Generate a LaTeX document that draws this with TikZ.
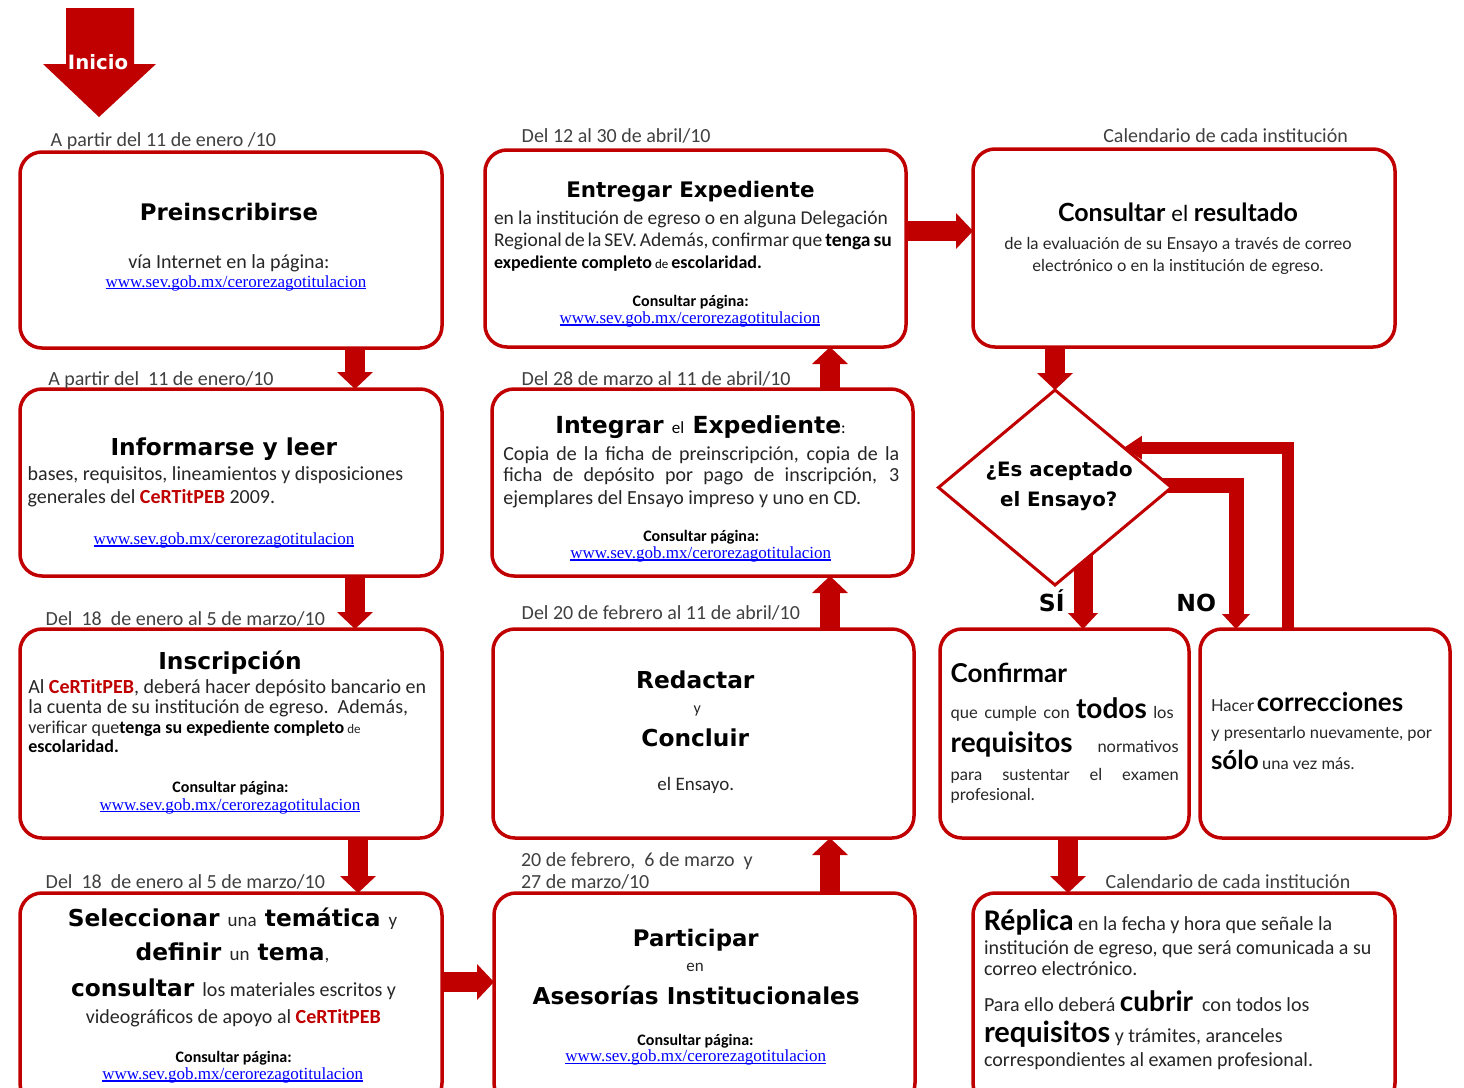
\documentclass[tikz,border=0pt]{standalone}
\usepackage{fontspec}
\setmainfont{Carlito}
\newfontfamily\latof{Lato}
\newfontfamily\dvsf{DejaVu Sans}
\newfontfamily\serf{Liberation Serif}
\usetikzlibrary{arrows.meta,shapes.geometric,calc}
\pgfdeclarelayer{bg}
\pgfsetlayers{bg,main}
\definecolor{rd}{HTML}{C00000}
\definecolor{dg}{HTML}{404040}
\definecolor{bt}{HTML}{262626}
\definecolor{ub}{HTML}{0000FF}
\newcommand\fsz[1]{\fontsize{#1pt}{#1pt}\selectfont}
\newcommand\ttb[1]{\dvsf\bfseries\fontsize{#1pt}{#1pt}\selectfont}
\newcommand\lr[1]{\latof\mdseries\fontsize{#1pt}{#1pt}\selectfont}
\newcommand\lb[1]{\latof\bfseries\fontsize{#1pt}{#1pt}\selectfont}
\newcommand\cer{{\bfseries\color{rd}CeRTitPEB}}
\newcommand\myurl{{\setbox0\hbox{\serf\fsz{17}\color{ub}www.sev.gob.mx/cerorezagotitulacion}\rlap{\color{ub}\rule[-2.2pt]{\wd0}{1.1pt}}\box0}}
\begin{document}
\begin{tikzpicture}[x=1pt,y=-1pt,
  box/.style={draw=rd, line width=3.5pt, rounded corners=22pt, fill=white, inner sep=0pt, outer sep=0pt},
  tx/.style={inner sep=0pt, outer sep=0pt, anchor=base, text=bt, font=\fsz{20}},
  txl/.style={tx, anchor=base west},
  ttl/.style={tx, text=black},
  dt/.style={txl, text=dg},
  cp/.style={tx, text=black, font=\bfseries\fsz{16}},
  barr/.style={draw=rd, line width=20pt, -{Triangle[width=36pt,length=17pt,line width=0pt]}},
  barrs/.style={draw=rd, line width=15pt, line join=miter, -{Triangle[width=28pt,length=15pt,line width=0pt]}},
  barrl/.style={draw=rd, line width=12pt, line join=miter, -{Triangle[width=24pt,length=18pt,line width=0pt]}}]
\useasboundingbox (0,0) rectangle (1464,1087);

% Inicio arrow
\fill[rd] (66,8) -- (134,8) -- (134,64) -- (156,64) -- (99,117) -- (43,64) -- (66,64) -- cycle;
\node[tx, text=white, font=\ttb{19.7}] (inicio) at (98,69) {Inicio};

% boxes
\node[box, minimum width=422pt, minimum height=196pt] (pre) at (231,250) {};
\node[box, minimum width=422pt, minimum height=187pt] (inf) at (231,482.5) {};
\node[box, minimum width=422pt, minimum height=209pt] (ins) at (231,733.5) {};
\node[box, minimum width=422pt, minimum height=212pt] (sel) at (231,999) {};
\node[box, minimum width=421pt, minimum height=197pt] (ent) at (695.5,248.5) {};
\node[box, minimum width=421pt, minimum height=187pt] (int) at (702.5,482.5) {};
\node[box, minimum width=421pt, minimum height=209pt] (red) at (703.5,733.5) {};
\node[box, minimum width=421pt, minimum height=212pt] (par) at (704.5,999) {};
\node[box, minimum width=422pt, minimum height=198pt] (cons) at (1184,248) {};
\node[box, minimum width=249pt, minimum height=209pt] (conf) at (1064.5,733.5) {};
\node[box, minimum width=250pt, minimum height=209pt] (hac) at (1325,733.5) {};
\node[box, minimum width=422pt, minimum height=212pt] (rep) at (1184,999) {};
\node[draw=rd, line width=3pt, fill=white, diamond, minimum width=233pt, minimum height=195pt, inner sep=0pt, outer sep=0pt] (dia) at (1055,487.5) {};

% connectors
\draw[barr] ([xshift=124pt]pre.south) -- ([xshift=124pt]inf.north);
\draw[barr] ([xshift=124pt]inf.south) -- ([xshift=124pt]ins.north);
\draw[barr] ([xshift=127pt]ins.south) -- ([xshift=127pt]sel.north);
\draw[barr] ([yshift=17pt]sel.east) -- ([yshift=17pt]par.west);
\draw[barr] ([xshift=125.5pt]par.north) -- ([xshift=126.5pt]red.south);
\draw[barr] ([xshift=126.5pt]red.north) -- ([xshift=127.5pt]int.south);
\draw[barr] ([xshift=127.5pt]int.north) -- ([xshift=134.5pt]ent.south);
\draw[barr] ([yshift=17.5pt]ent.east) -- ([yshift=17pt]cons.west);
\draw[barr] (cons.south -| dia.north) -- (dia.north);
\draw[barr] ([xshift=3.5pt]conf.south) -- ([xshift=-116pt]rep.north);
\begin{pgfonlayer}{bg}
\draw[barr, line width=19pt, -{Triangle[width=30pt,length=16pt,line width=0pt]}] ([xshift=28pt]dia.center) -- ([xshift=18.5pt]conf.north);
\draw[barrs] ([yshift=2pt]dia.center) -| ([xshift=-89pt]hac.north);
\end{pgfonlayer}
\draw[barrl] ([xshift=-37pt]hac.north) |- (dia.30);

% date labels
\node[dt] (d1) at (50.7,146) {A partir del 11 de enero /10};
\node[dt] (d2) at (48.3,385) {A partir del~~11 de enero/10};
\node[dt] (d3) at (45.7,625) {Del~~18~~de enero al 5 de marzo/10};
\node[dt] (d4) at (45.7,888.3) {Del~~18~~de enero al 5 de marzo/10};
\node[dt] (d5) at (521.7,142.7) {Del 12 al 30 de abril/10};
\node[dt] (d6) at (521.7,385) {Del 28 de marzo al 11 de abril/10};
\node[dt] (d7) at (521.7,619.5) {Del 20 de febrero al 11 de abril/10};
\node[dt] (d8) at (521,866.7) {20 de febrero,~~6 de marzo~~y};
\node[dt] (d9) at (521,888.3) {27 de marzo/10};
\node[dt] (d10) at (1103.3,142.7) {Calendario de cada institución};
\node[dt] (d11) at (1105.7,888.3) {Calendario de cada institución};

% Preinscribirse
\node[ttl, font=\ttb{22.8}] (preT) at (229,220.7) {Preinscribirse};
\node[tx] (preB) at (229,268.7) {vía Internet en la página:};
\node[tx] (preU) at (236,287) {\myurl};

% Entregar
\node[ttl, font=\ttb{21.4}] (entT) at (690.5,197.3) {Entregar Expediente};
\node[txl, font=\fsz{19.5}] (ent1) at (494,224) {\makebox[394pt][s]{en la institución de egreso o en alguna Delegación}};
\node[txl, font=\fsz{19.5}] (ent2) at (494,246) {\makebox[394pt][s]{Regional de la SEV. Además, confirmar que {\color{black}\bfseries tenga su}}};
\node[txl, text=black, font=\bfseries\fsz{18}] (ent3) at (494,268.3) {expediente completo\,{\mdseries\fsz{13}de}\,escolaridad.};
\node[cp] (entC) at (690.7,306) {Consultar página:};
\node[tx] (entU) at (690,323.3) {\myurl};

% Consultar resultado
\node[ttl] (consT) at (1178,221.7) {\lb{25}Consultar \lr{22}el \lb{25}resultado};
\node[tx, font=\lr{16.5}] (cons1) at (1178,249) {de la evaluación de su Ensayo a través de correo};
\node[tx, font=\lr{16.5}] (cons2) at (1178,271.7) {electrónico o en la institución de egreso.};

% Informarse
\node[ttl, font=\ttb{23.3}] (infT) at (223.8,455) {Informarse y leer};
\node[txl] (inf1) at (27.7,480.7) {bases, requisitos, lineamientos y disposiciones};
\node[txl] (inf2) at (27.7,503.3) {generales del \cer{} 2009.};
\node[tx] (infU) at (224,544.3) {\myurl};

% Integrar
\node[ttl] (intT) at (700.5,433.3) {\ttb{23.5}Integrar {\fsz{17}\mdseries\rmfamily el} Expediente{\fsz{17}\mdseries\rmfamily :}};
\node[txl] (int1) at (503.3,460) {\makebox[396pt][s]{Copia de la ficha de preinscripción, copia de la}};
\node[txl] (int2) at (503.3,481.7) {\makebox[396pt][s]{ficha de depósito por pago de inscripción, 3}};
\node[txl] (int3) at (503.3,504) {ejemplares del Ensayo impreso y uno en CD.};
\node[cp] (intC) at (701.3,541.7) {Consultar página:};
\node[tx] (intU) at (700.7,558.3) {\myurl};

% Inscripcion
\node[ttl, font=\ttb{23.3}] (insT) at (230,669.3) {Inscripción};
\node[txl] (ins1) at (28.3,693.3) {Al \cer, deberá hacer depósito bancario en};
\node[txl] (ins2) at (28.3,713.3) {la cuenta de su institución de egreso.~~Además,};
\node[txl, font=\fsz{18}] (ins3) at (28.3,733.3) {verificar que{\color{black}\bfseries tenga su expediente completo}{\fsz{13} de}};
\node[txl, text=black, font=\bfseries\fsz{18}] (ins4) at (28.3,752.7) {escolaridad.};
\node[cp] (insC) at (230.5,792.7) {Consultar página:};
\node[tx] (insU) at (230,810) {\myurl};

% Seleccionar
\node[ttl] (sel1) at (232.5,926) {\ttb{23.3}Seleccionar {\rmfamily\mdseries\fsz{19}\color{bt}una} temática {\rmfamily\mdseries\fsz{19}\color{bt}y}};
\node[ttl] (sel2) at (232.5,960.7) {\ttb{23.3}definir {\rmfamily\mdseries\fsz{19}\color{bt}un} tema{\rmfamily\mdseries\fsz{19}\color{bt},}};
\node[ttl] (sel3) at (233.5,996.7) {\ttb{23.3}consultar {\rmfamily\mdseries\fsz{20}\color{bt}los materiales escritos y}};
\node[tx] (sel4) at (233.3,1023.3) {videográficos de apoyo al \cer};
\node[cp] (selC) at (233.7,1062.7) {Consultar página:};
\node[tx] (selU) at (232.7,1079.3) {\myurl};

% Redactar
\node[ttl, font=\ttb{23.3}] (redT1) at (695.3,688.3) {Redactar};
\node[tx, font=\fsz{16}] (redY) at (697.3,713.3) {y};
\node[ttl, font=\ttb{23.3}] (redT2) at (695.2,746.7) {Concluir};
\node[tx, font=\fsz{19}] (redE) at (695.8,790) {el Ensayo.};

% Participar
\node[ttl, font=\ttb{22.8}] (parT1) at (695.8,946) {Participar};
\node[tx, font=\fsz{17}] (parE) at (695,971.7) {en};
\node[ttl, font=\ttb{23.2}] (parT2) at (696.2,1004) {Asesorías Institucionales};
\node[cp] (parC) at (695.5,1045) {Consultar página:};
\node[tx] (parU) at (695.7,1061.7) {\myurl};

% Diamond text
\node[ttl, font=\ttb{19.8}] (diaT1) at (1059.2,476) {¿Es aceptado};
\node[ttl, font=\ttb{19.8}] (diaT2) at (1058.7,506.7) {el Ensayo?};
\node[ttl, font=\ttb{23.5}] (si) at (1051.8,611.7) {SÍ};
\node[ttl, font=\ttb{23.5}] (no) at (1196.3,611.7) {NO};

% Confirmar
\node[txl, text=black, font=\lb{26}] (confT) at (950.7,682.3) {Confirmar};
\node[txl] (conf1) at (950.7,718.3) {\makebox[223pt][s]{\lr{16.5}que cumple con {\color{black}\lb{28}todos} los}};
\node[txl] (conf2) at (950.7,752.3) {\makebox[228pt][s]{{\color{black}\lb{28}requisitos} \lr{16.5}normativos}};
\node[txl, font=\lr{16.5}] (conf3) at (950.7,780) {\makebox[228pt][s]{para sustentar el examen}};
\node[txl, font=\lr{16.5}] (conf4) at (950.7,800) {profesional.};

% Hacer correcciones
\node[txl] (hac1) at (1211,711.7) {\lr{16.5}Hacer\,{\color{black}\lb{26}correcciones}};
\node[txl, font=\lr{16.5}] (hac2) at (1211,738.3) {y presentarlo nuevamente, por};
\node[txl] (hac3) at (1211,769) {{\color{black}\lb{26}sólo}\,\lr{16.5}una vez más.};

% Replica
\node[txl] (rep1) at (984,930.7) {{\color{black}\bfseries\fsz{30}Réplica} en la fecha y hora que señale la};
\node[txl] (rep2) at (984,954.3) {institución de egreso, que será comunicada a su};
\node[txl] (rep3) at (984,975) {correo electrónico.};
\node[txl] (rep4) at (984,1011.7) {Para ello deberá {\color{black}\lb{28}cubrir}~~con todos los};
\node[txl] (rep5) at (984,1042.7) {{\color{black}\lb{29}requisitos} y trámites, aranceles};
\node[txl] (rep6) at (984,1066.7) {correspondientes al examen profesional.};
\end{tikzpicture}
\end{document}
